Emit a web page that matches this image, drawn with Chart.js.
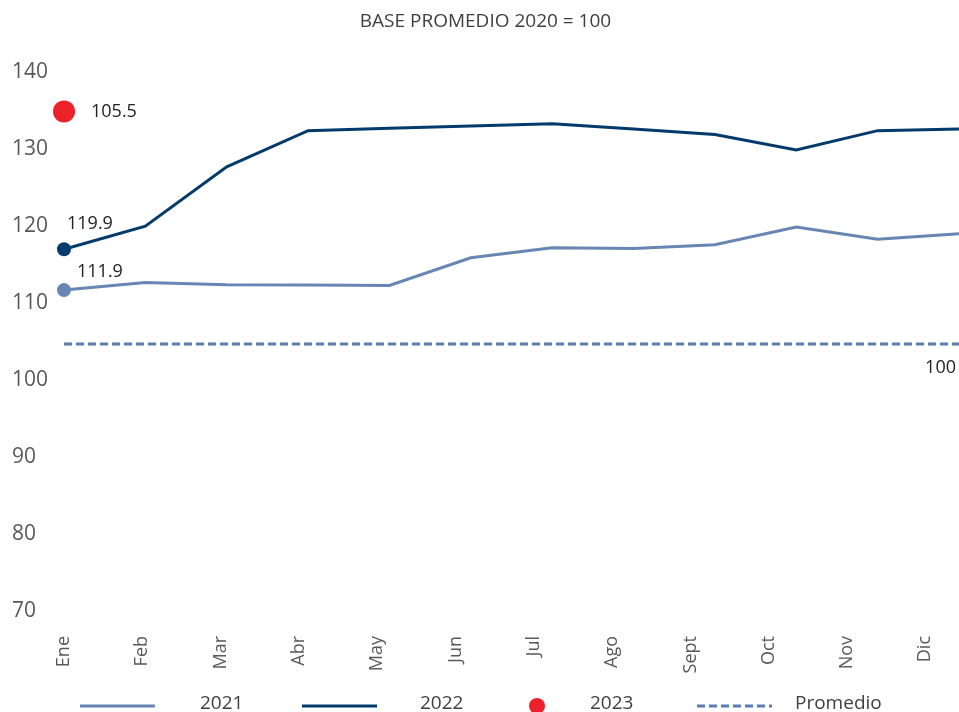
<!DOCTYPE html>
<html><head><meta charset="utf-8">
<script src="https://cdn.jsdelivr.net/npm/chart.js@4.4.0/dist/chart.umd.min.js"></script>
<style>html,body{margin:0;padding:0;background:#fff;}#wrap{width:959px;height:712px;position:relative;}</style>
</head><body><div id="wrap"><canvas id="c" width="959" height="712"></canvas></div>
<script>
const months = ['Ene','Feb','Mar','Abr','May','Jun','Jul','Ago','Sept','Oct','Nov','Dic'];
const values2021 = [111.4, 112.4, 112.1, 112.05, 112.0, 115.6, 116.9, 116.8, 117.3, 119.6, 118.0, 118.7];
const values2022 = [116.7, 119.7, 127.4, 132.1, 132.4, 132.7, 133.0, 132.3, 131.6, 129.6, 132.1, 132.3];
const values2023 = [134.6];
const valuesPromedio = [104.4, 104.4, 104.4, 104.4, 104.4, 104.4, 104.4, 104.4, 104.4, 104.4, 104.4, 104.4];
const seriesNames = ['2021', '2022', '2023', 'Promedio'];
const label2021 = '111.9';
const label2022 = '119.9';
const label2023 = '105.5';
const labelPromedio = '100';
const yTicks = [70, 80, 90, 100, 110, 120, 130, 140];
const titleText = 'BASE PROMEDIO 2020 = 100';

const FONT = "'Open Sans', sans-serif";
const C2021 = '#6886b4', C2022 = '#033a6c', C2023 = '#ed2129', CPROM = '#5b7db1';

const toXY = arr => arr.map((v, i) => ({x: i, y: v}));

const pointLabelPlugin = {
  id: 'pointLabels',
  afterDatasetsDraw(chart, args, opts) {
    const ctx = chart.ctx;
    ctx.save();
    ctx.font = `18px ${FONT}`;
    ctx.fillStyle = '#222222';
    ctx.textBaseline = 'middle';
    opts.items.forEach(it => {
      const el = chart.getDatasetMeta(it.ds).data[it.idx];
      if (!el) return;
      ctx.textAlign = it.align || 'left';
      ctx.fillText(it.text, el.x + it.dx, el.y + it.dy);
    });
    ctx.restore();
  }
};

const legendPlugin = {
  id: 'customLegend',
  afterDraw(chart, args, opts) {
    const ctx = chart.ctx;
    const y = opts.y;
    ctx.save();
    ctx.font = `19px ${FONT}`;
    ctx.fillStyle = '#404040';
    ctx.textBaseline = 'middle';
    ctx.textAlign = 'left';
    opts.items.forEach(it => {
      const ds = chart.data.datasets[it.ds];
      ctx.save();
      if (it.kind === 'dot') {
        ctx.fillStyle = ds.pointBackgroundColor;
        ctx.beginPath();
        ctx.arc(it.x, y + 2, 8, 0, Math.PI * 2);
        ctx.fill();
      } else {
        ctx.strokeStyle = ds.borderColor;
        ctx.lineWidth = 3;
        ctx.setLineDash(ds.borderDash || []);
        ctx.beginPath();
        ctx.moveTo(it.x, y + 2);
        ctx.lineTo(it.x + 75, y + 2);
        ctx.stroke();
      }
      ctx.restore();
      ctx.fillText(ds.label, it.tx, y);
    });
    ctx.restore();
  }
};

const noPad = s => { s.paddingLeft = 0; s.paddingRight = 0; s.paddingTop = 0; s.paddingBottom = 0; };

new Chart(document.getElementById('c'), {
  type: 'line',
  data: {
    datasets: [
      {label: seriesNames[0], data: toXY(values2021), xAxisID: 'xd', borderColor: C2021, backgroundColor: C2021, clip: false,
       pointBackgroundColor: C2021, borderWidth: 3, pointRadius: c => c.dataIndex === 0 ? 7 : 0, pointBorderWidth: 0, tension: 0},
      {label: seriesNames[1], data: toXY(values2022), xAxisID: 'xd', borderColor: C2022, backgroundColor: C2022, clip: false,
       pointBackgroundColor: C2022, borderWidth: 3, pointRadius: c => c.dataIndex === 0 ? 7 : 0, pointBorderWidth: 0, tension: 0},
      {label: seriesNames[2], data: toXY(values2023), xAxisID: 'xd', borderColor: C2023, backgroundColor: C2023, clip: false,
       pointBackgroundColor: C2023, showLine: false, pointRadius: 11, pointBorderWidth: 0},
      {label: seriesNames[3], data: toXY(valuesPromedio), xAxisID: 'xd', borderColor: CPROM, backgroundColor: CPROM, clip: false,
       pointBackgroundColor: CPROM, borderWidth: 3, borderDash: [8, 4], pointRadius: 0, tension: 0}
    ]
  },
  options: {
    responsive: false,
    animation: false,
    devicePixelRatio: 1,
    layout: {autoPadding: false, padding: {left: 12, right: 0, top: 0, bottom: 0}},
    scales: {
      xd: {type: 'linear', display: false, min: 0, max: 11, position: 'bottom'},
      x: {
        type: 'linear', position: 'bottom', min: 0, max: 11.43,
        grid: {display: false, drawTicks: false}, border: {display: false},
        afterBuildTicks: s => { s.ticks = months.map((m, i) => ({value: i})); },
        afterFit: s => { s.height = 103; noPad(s); },
        ticks: {
          autoSkip: false, maxRotation: 90, minRotation: 90, padding: 27,
          font: {family: FONT, size: 18}, color: '#595959',
          callback: v => months[v]
        }
      },
      y: {
        min: 70, max: 140,
        grid: {display: false, drawTicks: false}, border: {display: false},
        afterBuildTicks: s => { s.ticks = yTicks.map(v => ({value: v})); },
        afterFit: s => { s.width = 52; noPad(s); },
        ticks: {font: {family: FONT, size: 21}, color: '#595959', crossAlign: 'far', padding: 0, labelOffset: 2}
      }
    },
    plugins: {
      legend: {display: false},
      tooltip: {enabled: false},
      title: {display: true, text: titleText, color: '#404040', font: {family: FONT, size: 19, weight: 'normal'},
              padding: {top: 10, bottom: 37}},
      pointLabels: {items: [
        {ds: 0, idx: 0, text: label2021, dx: 13, dy: -18},
        {ds: 1, idx: 0, text: label2022, dx: 3, dy: -25},
        {ds: 2, idx: 0, text: label2023, dx: 27, dy: 0},
        {ds: 3, idx: 11, text: labelPromedio, dx: -3, dy: 24, align: 'right'}
      ]},
      customLegend: {y: 704, items: [
        {ds: 0, x: 80, tx: 200},
        {ds: 1, x: 302, tx: 420},
        {ds: 2, x: 537, tx: 590, kind: 'dot'},
        {ds: 3, x: 697, tx: 795}
      ]}
    }
  },
  plugins: [pointLabelPlugin, legendPlugin]
});
</script></body></html>
